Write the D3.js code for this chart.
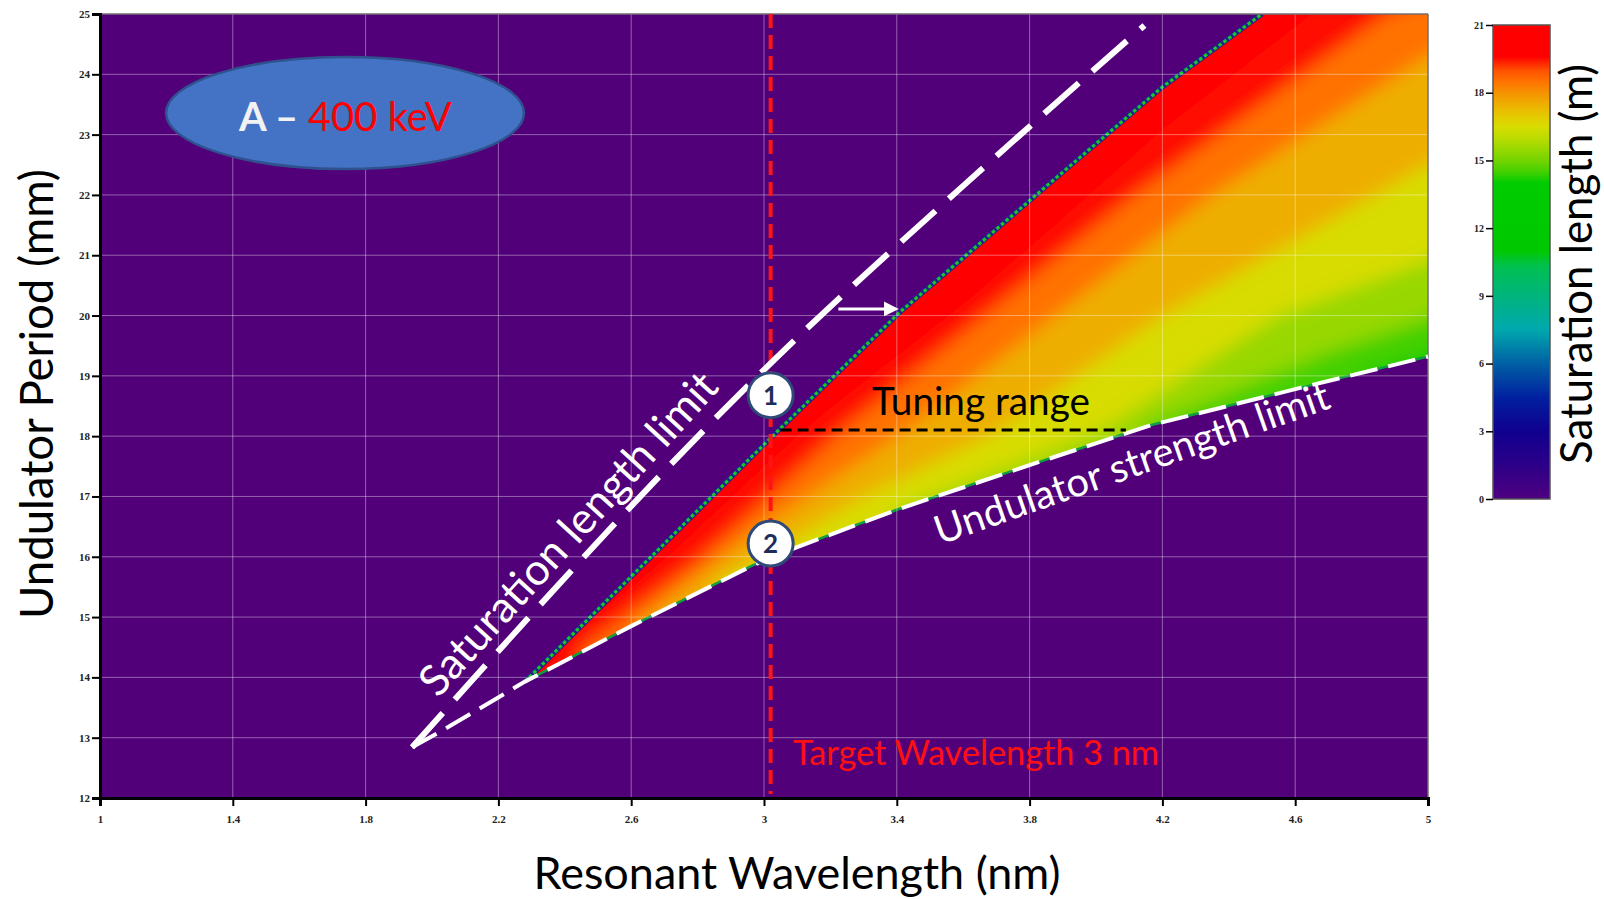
<!DOCTYPE html>
<html><head><meta charset="utf-8">
<script src="https://cdn.jsdelivr.net/npm/d3@7"></script>
<style>body{margin:0;background:#fff;} svg{display:block}</style>
</head><body><svg id="c" width="1604" height="899"></svg>
<script>
// ---------------- data ----------------
const xTicks = [1, 1.4, 1.8, 2.2, 2.6, 3, 3.4, 3.8, 4.2, 4.6, 5];
const yTicks = [12, 13, 14, 15, 16, 17, 18, 19, 20, 21, 22, 23, 24, 25];
const cbTicks = [0, 3, 6, 9, 12, 15, 18, 21];
// colour bar (saturation length in m -> colour)
const cbStops  = [0, 1.5, 3, 4.5, 6, 7.5, 9, 10.3, 11, 14, 14.5, 15, 15.5, 16, 16.5, 17, 17.5, 18, 18.5, 19, 19.6, 21];
const cbColors = ["#4e0080", "#2c0088", "#10008f", "#0020a0", "#0060a4", "#00a8ae", "#00b47c", "#00c050", "#00c800", "#00cc00", "#44d000", "#74d400", "#98d800", "#bcdc00", "#d8dc00", "#e6c800", "#eeae00", "#f59200", "#ff7200", "#ff5000", "#ff0000", "#ff0000"];
// edge of the coloured field: saturation length = 21 m  [wavelength nm, period mm]
const upperBoundary = [[2.28, 13.93], [2.66, 16.0], [3.02, 17.97], [3.41, 20.06], [3.86, 22.19], [4.20, 23.79], [4.50, 25.0]];
// undulator strength limit (white dashed, also lower edge of the field)
const strengthLimit = [[1.94, 12.84], [2.05, 13.18], [2.28, 13.93], [2.60, 14.85], [2.967, 15.86], [3.10, 16.16], [3.40, 16.78], [3.80, 17.52], [4.164, 18.18], [4.615, 18.80], [5.0, 19.32]];
// saturation length limit (white dashed)
const saturationLimit = [[1.94, 12.84], [3.03, 19.26], [3.6, 22.15], [4.146, 24.81]];
// iso-lines of saturation length inside the field
const contourLevels = [20, 19, 18, 17, 16, 15, 14];
const contour20 = [[2.31, 14.0], [2.6, 15.4], [3.02, 17.6], [3.12, 18.1], [3.63, 20.3], [4.2, 23.08], [4.65, 25]];
const contour19 = [[2.45, 14.45], [2.8, 15.9], [3.24, 18.1], [4.12, 22.0], [4.88, 25]];
const contour18 = [[2.62, 14.9], [3.0, 16.5], [3.43, 18.1], [4.35, 22.0], [5.0, 24.3]];
const contour17 = [[2.85, 15.55], [3.3, 17.0], [3.71, 18.1], [4.2, 20.0], [5.0, 22.5]];
const contour16 = [[3.4, 16.78], [4.02, 18.1], [4.55, 20.0], [5.0, 20.9]];
const contour15 = [[4.15, 18.16], [4.7, 19.4], [5.0, 19.95]];
const contour14 = [[4.8, 19.05], [5.0, 19.38]];
const contours = [contour20, contour19, contour18, contour17, contour16, contour15, contour14];
const targetWavelength = 3.02;
const tuningRange = [3.05, 4.09];
const tuningPeriod = 18.1;
const markerLabels = ["1", "2"];
const markerPeriods = [18.68, 16.22];
const arrowFrom = [3.224, 20.11];
const arrowTo = [3.40, 20.11];

// ---------------- drawing ----------------
const svg = d3.select("#c");
const W = 1604, H = 899;
const x = d3.scaleLinear().domain([1, 5]).range([100, 1428]);
const y = d3.scaleLinear().domain([12, 25]).range([798, 14]);
const cy = d3.scaleLinear().domain([0, 21]).range([499, 25]);
const color = d3.scaleLinear().domain(cbStops).range(cbColors).interpolate(d3.interpolateRgb).clamp(true);
const line = d3.line().x(d => x(d[0])).y(d => y(d[1]));
const smooth = d3.line().x(d => x(d[0])).y(d => y(d[1])).curve(d3.curveMonotoneX);
const PURPLE = "#52007a";
const defs = svg.append("defs");

function fit(sel, target) {
  const w = sel.node().getComputedTextLength();
  const fs = parseFloat(sel.attr("font-size"));
  sel.attr("font-size", (fs * target / w).toFixed(2));
}

defs.append("clipPath").attr("id", "plotClip").append("rect")
  .attr("x", x(1)).attr("y", y(25)).attr("width", x(5) - x(1)).attr("height", y(12) - y(25));
const fieldLower = strengthLimit.filter(d => d[0] >= 2.28);
const regionPts = upperBoundary.concat([[5, 25]], fieldLower.slice().reverse());
defs.append("clipPath").attr("id", "fieldClip").append("path").attr("d", line(regionPts) + "Z");
const filt = defs.append("filter").attr("id", "soft").attr("filterUnits", "userSpaceOnUse")
  .attr("x", 0).attr("y", 0).attr("width", W).attr("height", H);
filt.append("feGaussianBlur").attr("stdDeviation", 9);

// background
svg.append("rect").attr("x", x(1)).attr("y", y(25)).attr("width", x(5) - x(1)).attr("height", y(12) - y(25)).attr("fill", PURPLE);

// coloured field
const field = svg.append("g").attr("clip-path", "url(#plotClip)").append("g").attr("clip-path", "url(#fieldClip)");
const bands = field.append("g").attr("filter", "url(#soft)");
bands.append("rect").attr("x", 0).attr("y", 0).attr("width", W).attr("height", H).attr("fill", color(20.5));
contours.forEach((c, i) => {
  const pts = [[c[0][0], 8]].concat(c, [[8, 30], [8, 8]]);
  bands.append("path").attr("d", line(pts) + "Z").attr("fill", color(contourLevels[i] - 0.5));
});

// field edges (stepped fringe)
const edges = svg.append("g").attr("clip-path", "url(#plotClip)");
edges.append("path").attr("d", line(upperBoundary)).attr("fill", "none").attr("stroke", "#20208e").attr("stroke-width", 5);
edges.append("path").attr("d", line(upperBoundary)).attr("fill", "none").attr("stroke", "#1cc42a").attr("stroke-width", 3.2).attr("stroke-dasharray", "3.5 2.5");
edges.append("path").attr("d", line(fieldLower)).attr("fill", "none").attr("stroke", "#10a040").attr("stroke-width", 2.5);

// grid
const grid = svg.append("g").attr("stroke", "#ffffff").attr("stroke-opacity", 0.38).attr("stroke-width", 1);
xTicks.slice(1, -1).forEach(t => grid.append("line").attr("x1", x(t)).attr("x2", x(t)).attr("y1", y(25)).attr("y2", y(12)));
yTicks.slice(1, -1).forEach(t => grid.append("line").attr("y1", y(t)).attr("y2", y(t)).attr("x1", x(1)).attr("x2", x(5)));

// frame
svg.append("line").attr("x1", x(1)).attr("x2", x(5)).attr("y1", y(25)).attr("y2", y(25)).attr("stroke", "#707070").attr("stroke-width", 1.5);
svg.append("line").attr("x1", x(5)).attr("x2", x(5)).attr("y1", y(25)).attr("y2", y(12)).attr("stroke", "#707070").attr("stroke-width", 1.5);

// axes
const axX = svg.append("g").attr("transform", `translate(0,${y(12)})`)
  .call(d3.axisBottom(x).tickValues(xTicks).tickSize(8).tickPadding(9).tickFormat(d3.format("")));
const axY = svg.append("g").attr("transform", `translate(${x(1)},0)`)
  .call(d3.axisLeft(y).tickValues(yTicks).tickSize(8).tickPadding(2).tickFormat(d3.format("")));
[axX, axY].forEach(a => {
  a.select(".domain").attr("stroke", "#000").attr("stroke-width", 3);
  a.selectAll(".tick line").attr("stroke", "#000").attr("stroke-width", 2);
  a.selectAll(".tick text").attr("font-family", "Liberation Serif, serif").attr("font-size", 11)
    .attr("font-weight", "bold").attr("fill", "#222");
});

// target wavelength line
svg.append("line").attr("x1", x(targetWavelength)).attr("x2", x(targetWavelength))
  .attr("y1", y(25)).attr("y2", y(12) - 4).attr("stroke", "#ff1414").attr("stroke-width", 4).attr("stroke-dasharray", "14 7");

// dashed limit lines
svg.append("path").attr("d", line(strengthLimit)).attr("fill", "none").attr("stroke", "#fff").attr("stroke-width", 4).attr("stroke-dasharray", "28 11");
svg.append("path").attr("d", smooth(saturationLimit)).attr("fill", "none").attr("stroke", "#fff").attr("stroke-width", 6).attr("stroke-dasharray", "46 18");

// tuning range line
svg.append("line").attr("x1", x(tuningRange[0])).attr("x2", x(tuningRange[1])).attr("y1", y(tuningPeriod)).attr("y2", y(tuningPeriod))
  .attr("stroke", "#000").attr("stroke-width", 3).attr("stroke-dasharray", "11 6");

// white arrow
defs.append("marker").attr("id", "ah").attr("viewBox", "0 0 10 10").attr("refX", 2).attr("refY", 5)
  .attr("markerWidth", 5).attr("markerHeight", 5).attr("orient", "auto")
  .append("path").attr("d", "M0,0 L10,5 L0,10 Z").attr("fill", "#fff");
svg.append("line").attr("x1", x(arrowFrom[0])).attr("y1", y(arrowFrom[1])).attr("x2", x(arrowTo[0]) - 10).attr("y2", y(arrowTo[1]))
  .attr("stroke", "#fff").attr("stroke-width", 3).attr("marker-end", "url(#ah)");

// markers
markerLabels.forEach((lab, i) => {
  const g = svg.append("g").attr("transform", `translate(${x(targetWavelength)},${y(markerPeriods[i])})`);
  g.append("circle").attr("r", 22.5).attr("fill", "#fff").attr("stroke", "#2f4a78").attr("stroke-width", 3);
  g.append("text").attr("text-anchor", "middle").attr("dy", "0.36em").attr("font-family", "Lato, sans-serif")
    .attr("font-weight", "bold").attr("font-size", 26).attr("fill", "#1f2d5a").text(lab);
});

// text annotations
const FONT = "Lato, Open Sans, sans-serif";
const t1 = svg.append("text").attr("x", 793).attr("y", 765).attr("font-family", FONT).attr("font-size", 31).attr("fill", "#ff1010").text("Target Wavelength 3 nm");
fit(t1, 366);
const t2 = svg.append("text").attr("x", 872).attr("y", 415).attr("font-family", FONT).attr("font-size", 35).attr("fill", "#000").text("Tuning range");
fit(t2, 218);
const t3 = svg.append("text").attr("transform", "translate(438,699) rotate(-47.7)").attr("font-family", FONT).attr("font-size", 38).attr("fill", "#fff").text("Saturation length limit");
fit(t3, 420);
const t4 = svg.append("text").attr("transform", "translate(940,545) rotate(-19.3)").attr("font-family", FONT).attr("font-size", 36).attr("fill", "#fff").text("Undulator strength limit");
fit(t4, 416);

// ellipse label
svg.append("ellipse").attr("cx", 345).attr("cy", 113).attr("rx", 179).attr("ry", 56).attr("fill", "#4472c4").attr("stroke", "#2f528f").attr("stroke-width", 2.5);
const et = svg.append("text").attr("x", 239).attr("y", 131).attr("font-family", FONT).attr("font-size", 40);
et.append("tspan").attr("fill", "#f2f2f2").attr("font-weight", "bold").text("A – ");
et.append("tspan").attr("fill", "#ff0000").text("400 keV");
fit(et, 213);

// axis titles
const xt = svg.append("text").attr("x", 797).attr("y", 889).attr("text-anchor", "middle").attr("font-family", FONT).attr("font-size", 42).attr("fill", "#000").text("Resonant Wavelength (nm)");
fit(xt, 527);
const yt = svg.append("text").attr("transform", "translate(53,394) rotate(-90)").attr("text-anchor", "middle").attr("font-family", FONT).attr("font-size", 42).attr("fill", "#000").text("Undulator Period (mm)");
fit(yt, 450);

// colour bar
const grad = defs.append("linearGradient").attr("id", "cbGrad").attr("x1", 0).attr("y1", 1).attr("x2", 0).attr("y2", 0);
cbStops.forEach((s, i) => grad.append("stop").attr("offset", s / 21).attr("stop-color", cbColors[i]));
svg.append("rect").attr("x", 1493).attr("y", cy(21)).attr("width", 57).attr("height", cy(0) - cy(21))
  .attr("fill", "url(#cbGrad)").attr("stroke", "#555").attr("stroke-width", 1.5);
const axC = svg.append("g").attr("transform", "translate(1493,0)")
  .call(d3.axisLeft(cy).tickValues(cbTicks).tickSize(7).tickPadding(2).tickFormat(d3.format("")));
axC.select(".domain").remove();
axC.selectAll(".tick line").attr("stroke", "#000").attr("stroke-width", 1.5);
axC.selectAll(".tick text").attr("font-family", "Liberation Serif, serif").attr("font-size", 10).attr("font-weight", "bold").attr("fill", "#222");
const ct = svg.append("text").attr("transform", "translate(1592,264) rotate(-90)").attr("text-anchor", "middle").attr("font-family", FONT).attr("font-size", 40).attr("fill", "#000").text("Saturation length (m)");
fit(ct, 400);
</script></body></html>
